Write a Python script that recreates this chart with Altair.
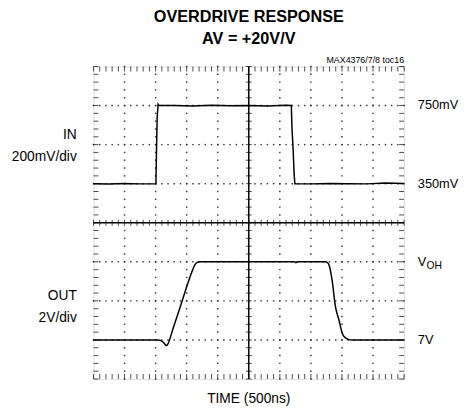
import altair as alt
import numpy as np
import pandas as pd

# Time axis: 500 ns/div, 10 divisions. Screen: 8 vertical divisions.
# IN trace (mV), 200 mV/div, 350 mV at division 5
in_t = [0, 250, 500, 750, 1005, 1013, 1025, 1040, 1050, 1300, 1600, 1900, 2200,
        2500, 2800, 3100, 3185, 3195, 3215, 3230, 3242, 3500, 3800, 4100, 4400, 4700, 5000]
in_mv = [350, 348, 351, 349, 350, 500, 690, 757, 752, 750, 748, 751, 749,
         750, 748, 751, 750, 640, 520, 400, 350, 349, 351, 350, 349, 353, 351]

# OUT trace (V), 2 V/div, 7 V at division 1, VOH = 11 V at division 3
out_t = [0, 800, 1044, 1108, 1150, 1171, 1195, 1282, 1392, 1551, 1598, 1630, 1665, 1710,
         2500, 3240, 3259, 3278, 3734, 3770, 3797, 3845, 3892, 3956, 4003, 4050, 4100, 4160, 5000]
out_v = [7.0, 7.0, 7.0, 6.92, 6.78, 6.71, 6.78, 7.6, 8.65, 10.2, 10.6, 10.83, 10.96, 11.0,
         11.0, 11.0, 10.95, 11.0, 11.0, 10.95, 10.79, 9.98, 8.77, 7.97, 7.36, 7.12, 7.03, 7.0, 7.0]

left_labels = ["IN", "200mV/div", "OUT", "2V/div"]
left_pos = [6.24, 5.68, 2.12, 1.55]
right_labels = ["750mV", "350mV", "V", "7V"]
right_pos = [7, 5, 3, 1]

FONT = "Liberation Sans, Arial, sans-serif"

in_df = pd.DataFrame({"t": in_t, "mv": in_mv})
out_df = pd.DataFrame({"t": out_t, "v": out_v})

X_DOM = [0, 5000]
Y_DOM = [0, 8]
xs = alt.Scale(domain=X_DOM, nice=False, zero=False)
ys = alt.Scale(domain=Y_DOM, nice=False, zero=False)

# graticule helper tables (derived from divisions)
minor_x = np.arange(0, 5001, 100)
minor_y = np.round(np.arange(0, 8.001, 0.2), 3)
major_x = [v for v in range(500, 5000, 500) if v != 2500]
major_y = [v for v in range(1, 8) if v != 4]
dots = pd.DataFrame(
    [(mx, y) for mx in major_x for y in minor_y] + [(x, my) for my in major_y for x in minor_x],
    columns=["t", "d"])
mx_df = pd.DataFrame({"t": minor_x})
my_df = pd.DataFrame({"d": minor_y})

X = alt.X("t:Q", scale=xs, axis=None)
Y = alt.Y("d:Q", scale=ys, axis=None)

vline = alt.Chart(pd.DataFrame({"t": [2500]})).mark_rule(color="black", strokeWidth=1.5).encode(x=X)
hline = alt.Chart(pd.DataFrame({"d": [4]})).mark_rule(color="black", strokeWidth=1.5).encode(y=Y)

dot_layer = alt.Chart(dots).mark_square(size=2.2, color="#222", opacity=0.9).encode(x=X, y=Y)

# ticks on centre cross
cx_ticks = alt.Chart(mx_df).transform_calculate(d="4").mark_tick(
    orient="vertical", size=6, thickness=1, color="black").encode(x=X, y=Y)
cy_ticks = alt.Chart(my_df).transform_calculate(t="2500").mark_tick(
    orient="horizontal", size=6, thickness=1, color="black").encode(x=X, y=Y)

# ticks on frame
top_ticks = alt.Chart(mx_df).transform_calculate(d="8").mark_tick(
    orient="vertical", size=5, thickness=1, color="black", yOffset=2.5).encode(x=X, y=Y)
bot_ticks = alt.Chart(mx_df).transform_calculate(d="0").mark_tick(
    orient="vertical", size=5, thickness=1, color="black", yOffset=-2.5).encode(x=X, y=Y)
left_ticks = alt.Chart(my_df).transform_calculate(t="0").mark_tick(
    orient="horizontal", size=5, thickness=1, color="black", xOffset=2.5).encode(x=X, y=Y)
right_ticks = alt.Chart(my_df).transform_calculate(t="5000").mark_tick(
    orient="horizontal", size=5, thickness=1, color="black", xOffset=-2.5).encode(x=X, y=Y)

in_line = alt.Chart(in_df).transform_calculate(d="5 + (datum.mv - 350) / 200").mark_line(
    color="black", strokeWidth=1.5).encode(x=X, y=Y)
out_line = alt.Chart(out_df).transform_calculate(d="1 + (datum.v - 7) / 2").mark_line(
    color="black", strokeWidth=1.5, interpolate="monotone").encode(x=X, y=Y)

lab_l = alt.Chart(pd.DataFrame({"label": left_labels, "d": left_pos})).transform_calculate(t="0").mark_text(
    align="right", baseline="middle", dx=-17, font=FONT, fontSize=14, color="black").encode(
    x=X, y=Y, text="label:N")
lab_r = alt.Chart(pd.DataFrame({"label": right_labels, "d": right_pos})).transform_calculate(t="5000").mark_text(
    align="left", baseline="middle", dx=14, font=FONT, fontSize=13, color="black").encode(
    x=X, y=Y, text="label:N")
lab_sub = alt.Chart(pd.DataFrame({"label": ["OH"], "d": [3]})).transform_calculate(t="5000").mark_text(
    align="left", baseline="middle", dx=22.8, dy=4, font=FONT, fontSize=10.5, color="black").encode(
    x=X, y=Y, text="label:N")
lab_id = alt.Chart(pd.DataFrame({"label": ["MAX4376/7/8 toc16"], "d": [8]})).transform_calculate(t="5000").mark_text(
    align="right", baseline="alphabetic", dy=-4, font=FONT, fontSize=9, color="black").encode(
    x=X, y=Y, text="label:N")
lab_time = alt.Chart(pd.DataFrame({"label": ["TIME (500ns)"], "d": [0]})).transform_calculate(t="2500").mark_text(
    align="center", baseline="middle", dy=20, font=FONT, fontSize=14, color="black").encode(
    x=X, y=Y, text="label:N")

chart = alt.layer(
    vline, hline, dot_layer, cx_ticks, cy_ticks, top_ticks, bot_ticks, left_ticks, right_ticks,
    in_line, out_line, lab_l, lab_r, lab_sub, lab_id, lab_time,
).properties(
    width=316, height=318,
    padding={"left": 87, "top": 56, "right": 61, "bottom": 26},
    autosize="none",
    title=alt.TitleParams(text=["OVERDRIVE RESPONSE", "AV = +20V/V"], font=FONT,
                          fontSize=16.5, fontWeight="bold", color="black", anchor="middle",
                          lineHeight=23, offset=22, dy=27, baseline="alphabetic"),
).configure_view(stroke="black", strokeWidth=3).configure(background="white")

chart.save("out.html", embed_options={"renderer": "svg", "actions": False})
